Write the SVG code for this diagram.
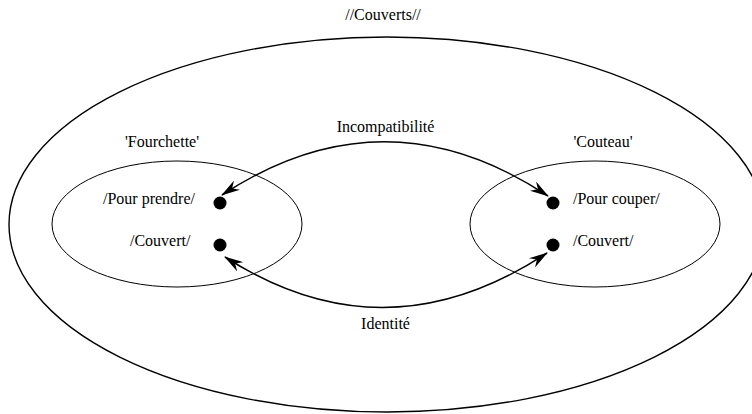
<svg xmlns="http://www.w3.org/2000/svg" width="752" height="414" viewBox="0 0 752 414">
<style>
text{font-family:"Liberation Serif","DejaVu Serif",serif;font-size:16px;fill:#000}
.e{fill:none;stroke:#000}
.c{fill:none;stroke:#000;stroke-width:1.5}
.d{fill:#000}
</style>
<defs>
<marker id="ah" viewBox="0 0 19 11" refX="18" refY="5.5" markerWidth="19" markerHeight="11" markerUnits="userSpaceOnUse" orient="auto-start-reverse">
<path d="M0,0 L19,5.5 L0,11 L6,5.5 Z" fill="#000"/>
</marker>
</defs>
<g id="couverts">
<ellipse class="e" cx="387" cy="224.5" rx="378" ry="187.5" stroke-width="1.4"/>
<text x="383" y="20" text-anchor="middle" font-family="Liberation Serif">//Couverts//</text>
</g>
<g id="fourchette">
<ellipse class="e" cx="177" cy="224" rx="125" ry="63"/>
<text x="162" y="147" text-anchor="middle">'Fourchette'</text>
</g>
<g id="couteau">
<ellipse class="e" cx="595" cy="224" rx="125" ry="63"/>
<text x="603" y="147" text-anchor="middle">'Couteau'</text>
</g>
<g id="f-pour-prendre">
<circle class="d" cx="220" cy="203" r="6.5"/>
<text x="103" y="204">/Pour prendre/</text>
</g>
<g id="f-couvert">
<circle class="d" cx="220" cy="245" r="6.5"/>
<text x="130" y="246">/Couvert/</text>
</g>
<g id="c-pour-couper">
<circle class="d" cx="553" cy="203" r="6.5"/>
<text x="573" y="204">/Pour couper/</text>
</g>
<g id="c-couvert">
<circle class="d" cx="553" cy="245" r="6.5"/>
<text x="573" y="246">/Couvert/</text>
</g>
<g id="connectors">
<path class="c" d="M222,195 Q385,88 548,196" marker-start="url(#ah)" marker-end="url(#ah)"/>
<text x="385.5" y="132" text-anchor="middle">Incompatibilité</text>
<path class="c" d="M225,257 Q385,360 547,253" marker-start="url(#ah)" marker-end="url(#ah)"/>
<text x="385.5" y="329" text-anchor="middle">Identité</text>
</g>
</svg>
